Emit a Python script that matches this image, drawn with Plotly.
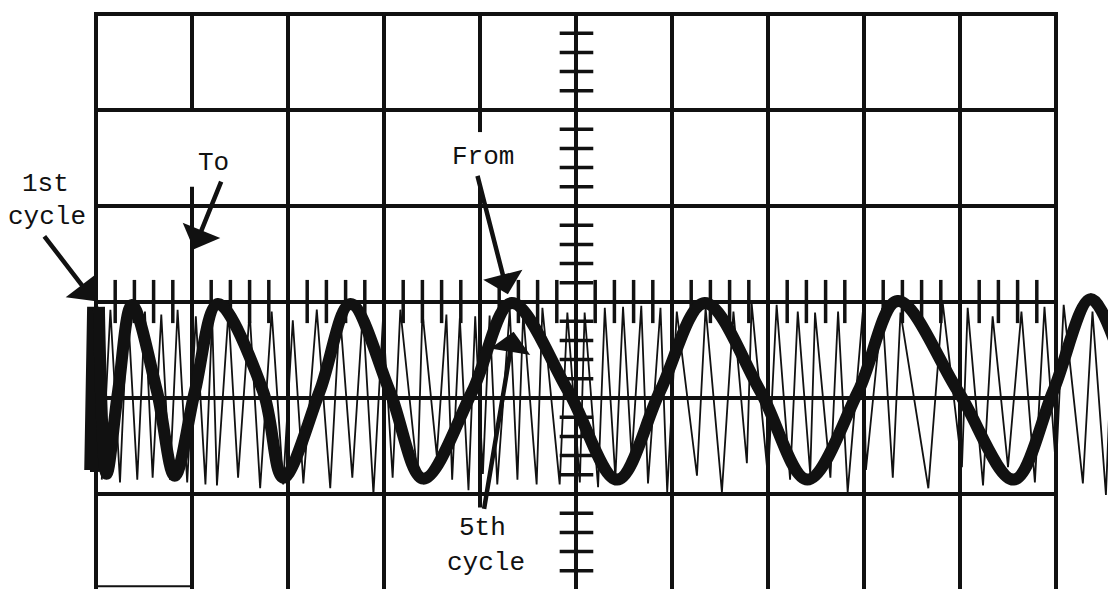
import plotly.graph_objects as go

# ---- data (units: graticule divisions; x = time, y = deflection) ----
blob_x = [-0.06, -0.03, 0.0, 0.03]
blob_y = [-1.75, -0.05, -1.77, -0.05]

thick_x = [0.03, 0.11, 0.23, 0.375, 0.635, 0.82, 1.03, 1.27, 1.74, 1.95, 2.33, 2.65,
           3.06, 3.41, 3.92, 4.33, 4.92, 5.43, 5.875, 6.34, 6.92, 7.41, 7.94, 8.35,
           8.98, 9.56, 9.97, 10.36, 10.625]
thick_y = [-0.05, -1.79, -0.93, -0.03, -0.93, -1.81, -0.93, -0.02, -0.93, -1.83, -0.93, -0.02,
           -0.93, -1.84, -0.93, -0.01, -0.93, -1.85, -0.93, -0.01, -0.93, -1.85, -0.93, 0.01,
           -0.93, -1.85, -0.93, 0.03, -0.45]

thin_x = [0.06, 0.15, 0.25, 0.33, 0.43, 0.51, 0.59, 0.68, 0.77, 0.85, 0.95, 1.04, 1.14, 1.21,
          1.26, 1.38, 1.48, 1.60, 1.71, 1.83, 1.95, 2.05, 2.16, 2.30, 2.44, 2.54,
          2.67, 2.78, 2.89, 2.99, 3.09, 3.17, 3.35, 3.40, 3.55, 3.65, 3.71, 3.79, 3.88, 3.95,
          4.03, 4.10, 4.18, 4.31, 4.39, 4.45, 4.59, 4.65, 4.83, 4.91, 5.04, 5.09, 5.23, 5.30,
          5.41, 5.49, 5.58, 5.68, 5.75, 5.88, 5.95, 6.05, 6.26, 6.35, 6.52, 6.64,
          6.78, 6.83, 7.00, 7.09, 7.23, 7.31, 7.44, 7.49, 7.65, 7.73, 7.83, 7.99,
          8.02, 8.19, 8.30, 8.38, 8.67, 8.82, 9.02, 9.08, 9.24, 9.34,
          9.50, 9.64, 9.78, 9.88, 10.00, 10.08, 10.28, 10.38, 10.52, 10.59,
          10.625]
thin_y = [-1.85, -0.08, -1.88, -0.04, -1.85, -0.10, -1.83, -0.13, -1.85, -0.08, -1.88, -0.15, -1.90, -0.17,
          -1.91, -0.10, -1.83, -0.10, -1.94, -0.10, -1.90, -0.19, -1.89, -0.08, -1.94, -0.10,
          -1.83, -0.10, -2.00, -0.17, -1.83, -0.08, -1.81, -0.10, -1.60, -0.13, -1.85, -0.17, -1.96, -0.15,
          -1.79, -0.14, -1.90, -0.08, -1.85, -0.11, -1.90, -0.06, -1.90, -0.11, -1.88, -0.11, -1.93, -0.06,
          -1.83, -0.05, -1.63, -0.04, -1.89, -0.06, -1.98, -0.10, -1.81, -0.06, -1.98, -0.10,
          -1.68, -0.02, -1.83, -0.03, -1.85, -0.10, -1.79, -0.11, -1.83, -0.10, -1.98, -0.08,
          -1.75, -0.06, -1.83, -0.11, -1.94, -0.01, -1.72, -0.06, -1.91, -0.15,
          -1.72, -0.10, -1.88, -0.05, -1.73, -0.03, -1.89, -0.10, -2.01, -0.24,
          -0.60]

grid_x = list(range(0, 11))
grid_y = list(range(-2, 4))
minor_step = 0.2

labels = ["To", "From", "1st", "cycle", "5th", "cycle"]
label_x = [1.22, 4.03, -0.53, -0.51, 4.03, 4.06]
label_y = [1.45, 1.51, 1.23, 0.89, -2.35, -2.72]

arrow_head_x = [1.02, -0.02, 4.29, 4.35]
arrow_head_y = [0.55, 0.01, 0.08, -0.31]
arrow_tail_x = [1.31, -0.55, 3.97, 4.04]
arrow_tail_y = [1.27, 0.70, 1.33, -2.17]

# ---- figure ----
INK = "#111111"
fig = go.Figure()

shapes = []
breaks = {1: [(3.0, 2.0), (1.2, -3.0)], 4: [(3.0, 1.77), (1.2, -2.14)]}
for gx in grid_x:
    segs = breaks.get(gx, [(3.02, -3.0)])
    for y0, y1 in segs:
        shapes.append(dict(type="line", x0=gx, x1=gx, y0=y0, y1=y1,
                           line=dict(color=INK, width=4), layer="below"))
for gy in grid_y:
    shapes.append(dict(type="line", x0=0, x1=10, y0=gy, y1=gy,
                       line=dict(color=INK, width=4), layer="below"))
shapes.append(dict(type="line", x0=0, x1=1, y0=-2.96, y1=-2.96,
                   line=dict(color=INK, width=2), layer="below"))
for k in range(1, 50):
    if k % 5:
        xx = k * minor_step
        shapes.append(dict(type="line", x0=xx, x1=xx, y0=-0.22, y1=0.23,
                           line=dict(color=INK, width=3.5), layer="below"))
for k in range(-14, 15):
    if k % 5:
        yy = k * minor_step
        shapes.append(dict(type="line", x0=4.83, x1=5.18, y0=yy, y1=yy,
                           line=dict(color=INK, width=3.5), layer="below"))

fig.add_trace(go.Scatter(x=thin_x, y=thin_y, mode="lines",
                         line=dict(color=INK, width=1.8), hoverinfo="skip"))
fig.add_trace(go.Scatter(x=blob_x, y=blob_y, mode="lines",
                         line=dict(color=INK, width=12), hoverinfo="skip"))
fig.add_trace(go.Scatter(x=thick_x, y=thick_y, mode="lines",
                         line=dict(color=INK, width=12, shape="spline", smoothing=1.0),
                         hoverinfo="skip"))

annotations = []
for t, lx, ly in zip(labels, label_x, label_y):
    annotations.append(dict(x=lx, y=ly, xref="x", yref="y", text=t, showarrow=False,
                            font=dict(family="Liberation Mono, Courier New, monospace",
                                      size=26, color=INK),
                            xanchor="center", yanchor="middle"))
for hx, hy, tx, ty in zip(arrow_head_x, arrow_head_y, arrow_tail_x, arrow_tail_y):
    annotations.append(dict(x=hx, y=hy, ax=tx, ay=ty, xref="x", yref="y",
                            axref="x", ayref="y", text="", showarrow=True,
                            arrowhead=1, arrowsize=1.5, arrowwidth=4.5, arrowcolor=INK,
                            standoff=0, startstandoff=0))

# the page body adds an 8 px offset; ranges are shifted to compensate
fig.update_layout(
    width=1116, height=589,
    margin=dict(l=0, r=0, t=0, b=0),
    paper_bgcolor="white", plot_bgcolor="white",
    showlegend=False,
    shapes=shapes, annotations=annotations,
    xaxis=dict(range=[-0.9167, 10.7083], visible=False, fixedrange=True),
    yaxis=dict(range=[-3.0729, 3.0625], visible=False, fixedrange=True),
)

fig.write_html("out.html")
